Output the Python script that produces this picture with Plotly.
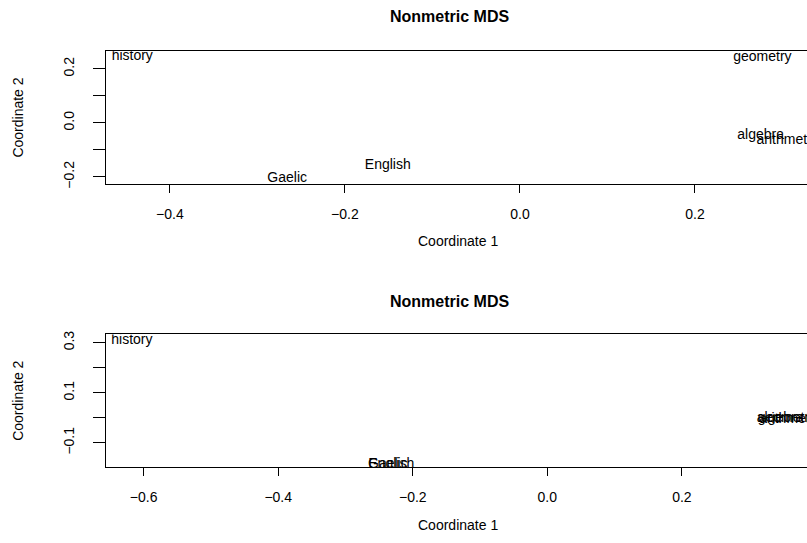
import plotly.graph_objects as go

# Six school subjects and their two-dimensional nonmetric MDS configurations
subjects = ["Gaelic", "English", "history", "arithmetic", "algebra", "geometry"]

fit1_x = [-0.266, -0.151, -0.443, 0.305, 0.275, 0.277]
fit1_y = [-0.205, -0.156, 0.247, -0.064, -0.047, 0.240]

fit2_x = [-0.237, -0.232, -0.6175, 0.360, 0.346, 0.356]
fit2_y = [-0.186, -0.187, 0.310, -0.005, -0.002, -0.003]

# Axis ticks (labels left blank where they would crowd)
x1_ticks = [-0.4, -0.2, 0.0, 0.2]
x1_text = ["\u22120.4", "\u22120.2", "0.0", "0.2"]
y1_ticks = [-0.2, -0.1, 0.0, 0.1, 0.2]
y1_text = ["\u22120.2", "", "0.0", "", "0.2"]

x2_ticks = [-0.6, -0.4, -0.2, 0.0, 0.2]
x2_text = ["\u22120.6", "\u22120.4", "\u22120.2", "0.0", "0.2"]
y2_ticks = [-0.1, 0.0, 0.1, 0.2, 0.3]
y2_text = ["\u22120.1", "", "0.1", "", "0.3"]

W, H = 807, 543
L = 106
FONT = "Liberation Sans, Arial, Helvetica, sans-serif"


def py(pix):
    """Convert a pixel row (from top) to paper y."""
    return 1 - pix / H


def px(pix):
    """Convert a pixel column to paper x (plot area spans L..W)."""
    return (pix - L) / (W - L)


fig = go.Figure()

fig.add_trace(go.Scatter(
    x=fit1_x, y=fit1_y, text=subjects, mode="text",
    textposition="middle center", cliponaxis=True,
    textfont=dict(family=FONT, size=14, color="black"),
    xaxis="x", yaxis="y", showlegend=False, hoverinfo="text",
))
fig.add_trace(go.Scatter(
    x=fit2_x, y=fit2_y, text=subjects, mode="text",
    textposition="middle center", cliponaxis=True,
    textfont=dict(family=FONT, size=14, color="black"),
    xaxis="x2", yaxis="y2", showlegend=False, hoverinfo="text",
))

xax = dict(
    showgrid=False, zeroline=False, showline=True, mirror=True,
    linecolor="black", linewidth=1, ticks="outside", ticklen=8,
    tickcolor="black", tickwidth=1, ticklabelstandoff=9,
    tickfont=dict(family=FONT, size=14, color="black"),
    domain=[0, 1],
)
yax = dict(
    showgrid=False, zeroline=False, showline=True, mirror=False,
    linecolor="black", linewidth=1, ticks="outside", ticklen=12,
    tickcolor="black", tickwidth=1, tickangle=-90, ticklabelstandoff=13,
    tickfont=dict(family=FONT, size=14, color="black"),
)

fig.update_layout(
    width=W, height=H,
    margin=dict(l=L, r=0, t=0, b=0),
    paper_bgcolor="white", plot_bgcolor="white",
    xaxis=dict(xax, range=[-0.473, 0.328], tickvals=x1_ticks, ticktext=x1_text,
               anchor="y"),
    yaxis=dict(yax, range=[-0.226, 0.265], tickvals=y1_ticks, ticktext=y1_text,
               domain=[py(183), py(48)], anchor="x"),
    xaxis2=dict(xax, range=[-0.656, 0.386], tickvals=x2_ticks, ticktext=x2_text,
                anchor="y2"),
    yaxis2=dict(yax, range=[-0.197, 0.333], tickvals=y2_ticks, ticktext=y2_text,
                domain=[py(471), py(336)], anchor="x2"),
)

annotations = []
for title_y, xlab_y, ylab_y in [(13, 241, 115.5), (303, 529.5, 403.5)]:
    annotations.append(dict(
        text="<b>Nonmetric MDS</b>", xref="paper", yref="paper",
        x=px(449), y=py(title_y), showarrow=False,
        xanchor="center", yanchor="middle",
        font=dict(family=FONT, size=16, color="black"),
    ))
    annotations.append(dict(
        text="Coordinate 1", xref="paper", yref="paper",
        x=px(458), y=py(xlab_y), showarrow=False,
        xanchor="center", yanchor="middle",
        font=dict(family=FONT, size=14, color="black"),
    ))
    annotations.append(dict(
        text="Coordinate 2", xref="paper", yref="paper",
        x=px(18), y=py(ylab_y), showarrow=False, textangle=-90,
        xanchor="center", yanchor="middle",
        font=dict(family=FONT, size=14, color="black"),
    ))
fig.update_layout(annotations=annotations)

fig.write_html("out.html")
